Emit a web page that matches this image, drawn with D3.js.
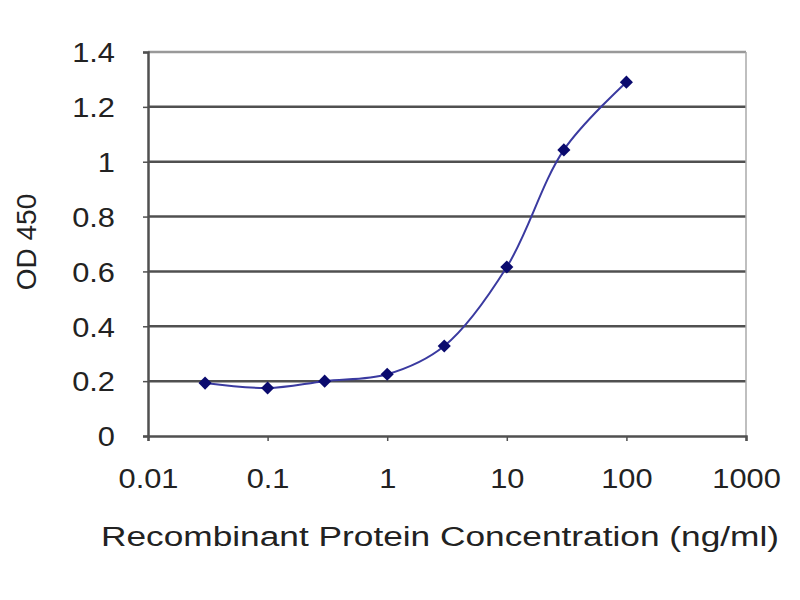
<!DOCTYPE html>
<html><head><meta charset="utf-8">
<script src="https://cdn.jsdelivr.net/npm/d3@7/dist/d3.min.js"></script>
<style>body{margin:0;background:#fff}svg{display:block}text{font-family:"Liberation Sans",Arial,sans-serif;fill:#222}</style>
</head><body>
<svg id="c" width="800" height="600"></svg>
<script>
const concentrations = [0.03, 0.1, 0.3, 1, 3, 10, 30, 100];
const od450 = [0.193, 0.175, 0.2, 0.225, 0.328, 0.616, 1.043, 1.29];
const xTicks = [0.01, 0.1, 1, 10, 100, 1000];
const yTicks = [0, 0.2, 0.4, 0.6, 0.8, 1, 1.2, 1.4];

const svg = d3.select("#c");
const L = 148, R = 746, T = 52, B = 436;
const x = d3.scaleLog().domain([0.01, 1000]).range([L, R]);
const y = d3.scaleLinear().domain([0, 1.4]).range([B, T]);
const FS = 28;

// gridlines
svg.append("g").selectAll("line").data(yTicks.filter(d => d > 0)).join("line")
  .attr("x1", L).attr("x2", R).attr("y1", d => y(d)).attr("y2", d => y(d))
  .attr("stroke", d => d === 1.4 ? "#999" : "#505050").attr("stroke-width", 2.5);
// right border
svg.append("line").attr("x1", R).attr("x2", R).attr("y1", T).attr("y2", B)
  .attr("stroke", "#aaa").attr("stroke-width", 1.5);

// axes
const xAxis = d3.axisBottom(x).tickValues(xTicks).tickFormat(d => String(d)).tickSize(5);
const gx = svg.append("g").attr("transform", `translate(0,${B})`).call(xAxis);
gx.select(".domain").attr("stroke", "#505050").attr("stroke-width", 2.5);
gx.selectAll(".tick line").attr("stroke", "#505050").attr("stroke-width", 1.5);
gx.selectAll("text").attr("font-size", FS).attr("fill", "#222")
  .attr("x", 0).attr("y", 0).attr("dy", 0)
  .attr("transform", "translate(0,52) scale(1.1,1)");

const yAxis = d3.axisLeft(y).tickValues(yTicks).tickFormat(d => String(d)).tickSize(5);
const gy = svg.append("g").attr("transform", `translate(${L},0)`).call(yAxis);
gy.select(".domain").attr("stroke", "#505050").attr("stroke-width", 2.5);
gy.selectAll(".tick line").attr("stroke", "#505050").attr("stroke-width", 1.5);
gy.selectAll("text").attr("font-size", FS).attr("fill", "#222")
  .attr("x", 0).attr("dy", "0.35em")
  .attr("transform", "translate(-33,0) scale(1.1,1)");
svg.selectAll(".domain").attr("fill", "none");

// line
const pts = concentrations.map((c, i) => [c, od450[i]]);
svg.append("path").datum(pts)
  .attr("d", d3.line().x(d => x(d[0])).y(d => y(d[1])).curve(d3.curveCatmullRom.alpha(0.5)))
  .attr("fill", "none").attr("stroke", "#3a3aa0").attr("stroke-width", 2);

// diamond markers
svg.append("g").selectAll("path").data(pts).join("path")
  .attr("transform", d => `translate(${x(d[0])},${y(d[1])})`)
  .attr("d", d3.symbol(d3.symbolDiamond2, 110)())
  .attr("fill", "#0a0a6e");

// titles
svg.append("text").attr("text-anchor", "middle")
  .attr("transform", "translate(440,546) scale(1.26,1)")
  .attr("font-size", FS).text("Recombinant Protein Concentration (ng/ml)");
svg.append("text").attr("transform", "translate(36,242) rotate(-90)").attr("text-anchor", "middle")
  .attr("font-size", FS).text("OD 450");
</script>
</body></html>
